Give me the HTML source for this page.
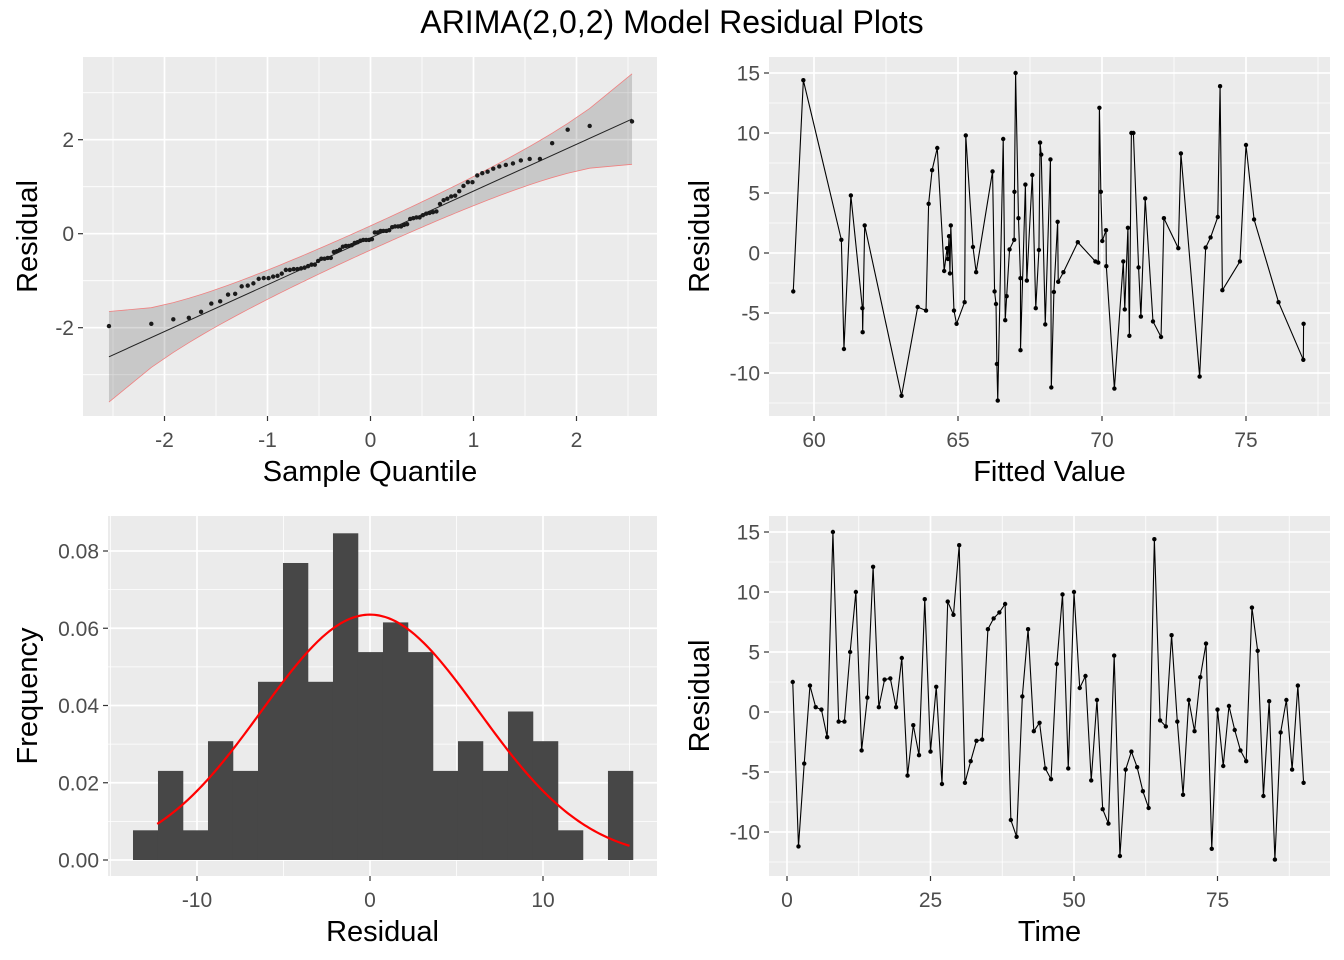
<!DOCTYPE html>
<html><head><meta charset="utf-8"><style>
body{margin:0;background:#fff;}
svg{display:block;font-family:"Liberation Sans",Arial,sans-serif;}
</style></head><body>
<svg id="c" width="1344" height="960" xmlns="http://www.w3.org/2000/svg">
<text x="672" y="33" text-anchor="middle" font-size="32" fill="#000">ARIMA(2,0,2) Model Residual Plots</text>
</svg>
<script>
// ---- data ----
const residuals = [2.5,-11.2,-4.3,2.2,0.4,0.2,-2.1,15.0,-0.8,-0.8,5.0,10.0,-3.2,1.2,12.1,0.4,2.7,2.8,0.4,4.5,-5.3,-1.1,-3.6,9.4,-3.3,2.1,-6.0,9.2,8.1,13.9,-5.9,-4.1,-2.4,-2.3,6.9,7.8,8.3,9.0,-9.0,-10.4,1.3,6.9,-1.6,-0.9,-4.7,-5.6,4.0,9.8,-4.7,10.0,2.0,3.0,-5.7,1.0,-8.1,-9.3,4.7,-12.0,-4.8,-3.3,-4.6,-6.6,-8.0,14.4,-0.7,-1.2,6.4,-0.8,-6.9,1.0,-1.6,2.9,5.7,-11.4,0.2,-4.5,0.5,-1.5,-3.2,-4.1,8.7,5.1,-7.0,0.9,-12.3,-1.7,1.0,-4.8,2.2,-5.9];
const fittedX = [59.28,59.63,60.95,61.04,61.28,61.68,61.69,61.76,63.04,63.60,63.89,63.98,64.10,64.28,64.52,64.62,64.65,64.69,64.72,64.75,64.86,64.95,65.23,65.27,65.52,65.63,66.20,66.27,66.32,66.35,66.38,66.57,66.64,66.69,66.79,66.95,66.96,67.0,67.10,67.17,67.17,67.34,67.39,67.58,67.70,67.81,67.85,67.89,68.03,68.21,68.24,68.33,68.46,68.48,68.66,69.16,69.77,69.87,69.91,69.96,70.01,70.14,70.15,70.43,70.74,70.79,70.90,70.95,71.02,71.09,71.27,71.35,71.50,71.77,72.05,72.15,72.65,72.74,73.39,73.60,73.77,74.02,74.10,74.18,74.79,75.0,75.28,76.13,76.99,77.0];
const fittedY = [-3.2,14.4,1.1,-8.0,4.8,-4.6,-6.6,2.3,-11.9,-4.5,-4.8,4.1,6.9,8.75,-1.5,0.4,-0.5,1.4,-1.7,2.3,-4.8,-5.9,-4.1,9.8,0.5,-1.6,6.8,-3.2,-4.25,-9.25,-12.3,9.5,-5.6,-3.6,0.3,1.1,5.1,15.0,2.9,-2.1,-8.1,5.7,-2.3,6.5,-4.6,0.25,9.2,8.2,-5.95,7.8,-11.2,-3.25,2.6,-2.4,-1.6,0.9,-0.7,-0.8,12.1,5.1,1.0,1.9,-1.1,-11.3,-0.7,-4.7,2.1,-6.9,10.0,10.0,-1.2,-5.3,4.55,-5.7,-7.0,2.9,0.4,8.3,-10.3,0.45,1.3,3.0,13.9,-3.1,-0.7,9.0,2.8,-4.1,-8.9,-5.9];
const histCounts = [1,3,1,4,3,6,10,6,11,7,8,7,3,4,3,5,4,1,0,3];
const histStart = -13.7;
const histWidth = 1.445;
const qqLine = [0.996, -0.09]; // slope, intercept
const normMean = 0;
const normSd = 6.28;

const NS = "http://www.w3.org/2000/svg";
const svg = document.getElementById('c');
function el(tag, attrs, parent){const e=document.createElementNS(NS,tag);for(const k in attrs)e.setAttribute(k,attrs[k]);(parent||svg).appendChild(e);return e;}
function lin(d0,p0,d1,p1){return v=>p0+(v-d0)*(p1-p0)/(d1-d0);}

function panel(o){
  const g=el('g',{});
  
  
  const bg=el('rect',{x:o.x0,y:o.y0,width:o.x1-o.x0,height:o.y1-o.y0,fill:'#ebebeb'},g);
  
  
  o.xminor.forEach(v=>{const p=o.sx(v);if(p>o.x0&&p<o.x1)el('line',{x1:p,x2:p,y1:o.y0,y2:o.y1,stroke:'#fff','stroke-width':0.8},g);});
  o.yminor.forEach(v=>{const p=o.sy(v);if(p>o.y0&&p<o.y1)el('line',{x1:o.x0,x2:o.x1,y1:p,y2:p,stroke:'#fff','stroke-width':0.8},g);});
  o.xmajor.forEach((v,i)=>{const p=o.sx(v);
    el('line',{x1:p,x2:p,y1:o.y0,y2:o.y1,stroke:'#fff','stroke-width':1.7},g);
    el('line',{x1:p,x2:p,y1:o.y1,y2:o.y1+5,stroke:'#333','stroke-width':1.2},g);
    const t=el('text',{x:p,y:o.y1+31,'text-anchor':'middle','font-size':21,fill:'#4d4d4d'},g);t.textContent=o.xlab[i];
    
    });
  o.ymajor.forEach((v,i)=>{const p=o.sy(v);
    el('line',{x1:o.x0,x2:o.x1,y1:p,y2:p,stroke:'#fff','stroke-width':1.7},g);
    el('line',{x1:o.x0-5,x2:o.x0,y1:p,y2:p,stroke:'#333','stroke-width':1.2},g);
    const t=el('text',{x:o.x0-9,y:p+7.5,'text-anchor':'end','font-size':21,fill:'#4d4d4d'},g);t.textContent=o.ylab[i];
    
    });
  const xt=el('text',{x:(o.x0+o.x1)/2,y:o.y1+65,'text-anchor':'middle','font-size':29,fill:'#000'},g);xt.textContent=o.xtitle;
  
  
  const yx=o.ytx, yy=(o.y0+o.y1)/2;
  const yt=el('text',{x:yx,y:yy,'text-anchor':'middle','font-size':29,fill:'#000',transform:`rotate(-90 ${yx} ${yy})`},g);yt.textContent=o.ytitle;
  
  
  return g;
}

// ---- Q-Q plot ----
function qnorm(p){const a=[-39.69683028665376,220.9460984245205,-275.9285104469687,138.357751867269,-30.66479806614716,2.506628277459239],b=[-54.47609879822406,161.5858368580409,-155.6989798598866,66.80131188771972,-13.28068155288572],c=[-0.007784894002430293,-0.3223964580411365,-2.400758277161838,-2.549732539343734,4.374664141464968,2.938163982698783],d=[0.007784695709041462,0.3224671290700398,2.445134137142996,3.754408661907416];const pl=0.02425;let q,r;
if(p<pl){q=Math.sqrt(-2*Math.log(p));return(((((c[0]*q+c[1])*q+c[2])*q+c[3])*q+c[4])*q+c[5])/((((d[0]*q+d[1])*q+d[2])*q+d[3])*q+1);}
if(p>1-pl){q=Math.sqrt(-2*Math.log(1-p));return-(((((c[0]*q+c[1])*q+c[2])*q+c[3])*q+c[4])*q+c[5])/((((d[0]*q+d[1])*q+d[2])*q+d[3])*q+1);}
q=p-0.5;r=q*q;return(((((a[0]*r+a[1])*r+a[2])*r+a[3])*r+a[4])*r+a[5])*q/(((((b[0]*r+b[1])*r+b[2])*r+b[3])*r+b[4])*r+1);}
{
  const sx=lin(0,370.5,1,473.5), sy=lin(0,233.7,2,139.7);
  const g=panel({name:'qq-panel',x0:83,x1:657,y0:57,y1:416,sx,sy,xmajor:[-2,-1,0,1,2],xlab:['-2','-1','0','1','2'],xminor:[-2.5,-1.5,-0.5,0.5,1.5,2.5],ymajor:[-2,0,2],ylab:['-2','0','2'],yminor:[-3,-1,1,3],xtitle:'Sample Quantile',ytitle:'Residual',ytx:37});
  const n=residuals.length, m=residuals.reduce((a,b)=>a+b,0)/n;
  const sd=Math.sqrt(residuals.reduce((a,b)=>a+(b-m)*(b-m),0)/(n-1));
  const s=residuals.map(v=>(v-m)/sd).sort((a,b)=>a-b);
  const th=s.map((v,i)=>qnorm((i+0.5)/n));
  const up=[],lo=[];
  th.forEach((x,i)=>{const p=(i+0.5)/n;const se=qqLine[0]*Math.sqrt(p*(1-p)/n)/(Math.exp(-x*x/2)/Math.sqrt(2*Math.PI))*1.96;const c=qqLine[1]+qqLine[0]*x;up.push([sx(x),sy(c+se)]);lo.push([sx(x),sy(c-se)]);});
  const band=el('polygon',{points:up.concat(lo.slice().reverse()).map(p=>p.join(',')).join(' '),fill:'#000','fill-opacity':0.15},g);
  
  
  el('polyline',{points:up.map(p=>p.join(',')).join(' '),fill:'none',stroke:'#f08080','stroke-width':0.8},g);
  el('polyline',{points:lo.map(p=>p.join(',')).join(' '),fill:'none',stroke:'#f08080','stroke-width':0.8},g);
  const x0=th[0],x1=th[n-1];
  const rl=el('line',{x1:sx(x0),y1:sy(qqLine[1]+qqLine[0]*x0),x2:sx(x1),y2:sy(qqLine[1]+qqLine[0]*x1),stroke:'#222','stroke-width':1},g);
  
  
  s.forEach((v,i)=>{const c=el('circle',{cx:sx(th[i]),cy:sy(v),r:2.2,fill:'#1a1a1a'},g);
    
    });
}

// ---- Fitted vs residual ----
{
  const sx=lin(60,814,75,1246), sy=lin(0,253,10,133);
  const g=panel({name:'fitted-panel',x0:769,x1:1330,y0:57,y1:416,sx,sy,xmajor:[60,65,70,75],xlab:['60','65','70','75'],xminor:[57.5,62.5,67.5,72.5,77.5],ymajor:[-10,-5,0,5,10,15],ylab:['-10','-5','0','5','10','15'],yminor:[-12.5,-7.5,-2.5,2.5,7.5,12.5],xtitle:'Fitted Value',ytitle:'Residual',ytx:709});
  const ln=el('polyline',{points:fittedX.map((x,i)=>sx(x)+','+sy(fittedY[i])).join(' '),fill:'none',stroke:'#000','stroke-width':1.1},g);
  
  
  fittedX.forEach((x,i)=>{const c=el('circle',{cx:sx(x),cy:sy(fittedY[i]),r:2.2,fill:'#000'},g);
    
    });
}

// ---- Histogram ----
{
  const sx=lin(0,370,10,543), sy=lin(0,860,0.08,551);
  const g=panel({name:'histogram-panel',x0:108,x1:657,y0:516,y1:876,sx,sy,xmajor:[-10,0,10],xlab:['-10','0','10'],xminor:[-15,-5,5,15],ymajor:[0,0.02,0.04,0.06,0.08],ylab:['0.00','0.02','0.04','0.06','0.08'],yminor:[0.01,0.03,0.05,0.07],xtitle:'Residual',ytitle:'Frequency',ytx:37});
  const n=histCounts.reduce((a,b)=>a+b,0);
  histCounts.forEach((c,i)=>{if(!c)return;const d=c/(n*histWidth);const xa=sx(histStart+i*histWidth),xb=sx(histStart+(i+1)*histWidth);
    const r=el('rect',{x:xa,y:sy(d),width:xb-xa+0.3,height:sy(0)-sy(d),fill:'#474747'},g);
    
    });
  const pts=[];for(let k=0;k<=200;k++){const x=-12.3+k*(15.0+12.3)/200;const y=Math.exp(-((x-normMean)**2)/(2*normSd*normSd))/(normSd*Math.sqrt(2*Math.PI));pts.push(sx(x)+','+sy(y));}
  const cu=el('polyline',{points:pts.join(' '),fill:'none',stroke:'#ff0000','stroke-width':2.2},g);
  
  
}

// ---- Time series ----
{
  const sx=lin(0,787,50,1074), sy=lin(0,712,10,592);
  const g=panel({name:'time-panel',x0:769,x1:1330,y0:516,y1:876,sx,sy,xmajor:[0,25,50,75],xlab:['0','25','50','75'],xminor:[12.5,37.5,62.5,87.5],ymajor:[-10,-5,0,5,10,15],ylab:['-10','-5','0','5','10','15'],yminor:[-12.5,-7.5,-2.5,2.5,7.5,12.5],xtitle:'Time',ytitle:'Residual',ytx:709});
  const ln=el('polyline',{points:residuals.map((v,i)=>sx(i+1)+','+sy(v)).join(' '),fill:'none',stroke:'#000','stroke-width':1.1},g);
  
  
  residuals.forEach((v,i)=>{const c=el('circle',{cx:sx(i+1),cy:sy(v),r:2.2,fill:'#000'},g);
    
    });
}
</script>
</body></html>
